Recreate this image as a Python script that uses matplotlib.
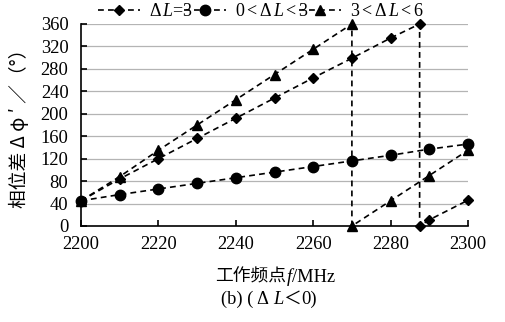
import matplotlib
matplotlib.use("Agg")
import matplotlib.pyplot as plt
from matplotlib.offsetbox import TextArea, HPacker, AnchoredOffsetbox

plt.rcParams['mathtext.fontset'] = 'custom'
plt.rcParams['mathtext.rm'] = 'Liberation Serif'
plt.rcParams['mathtext.it'] = 'Liberation Serif:italic'
plt.rcParams['font.family'] = ['Liberation Serif', 'Noto Sans CJK SC']

# ---- data ----
freq_d = [2200, 2210, 2220, 2230, 2240, 2250, 2260, 2270, 2280, 2287.5, 2287.5, 2290, 2300]
phase_d = [45, 84, 120, 156, 192, 228, 264, 299, 335, 360, 0, 11, 46]

freq_c = [2200, 2210, 2220, 2230, 2240, 2250, 2260, 2270, 2280, 2290, 2300]
phase_c = [45, 56, 66, 76, 86, 96, 106, 116, 126, 137, 146]

freq_t = [2200, 2210, 2220, 2230, 2240, 2250, 2260, 2270, 2270, 2280, 2290, 2300]
phase_t = [45, 88, 135, 180, 225, 270, 315, 360, 0, 45, 90, 135]

labels = [r"$\Delta\,L$=3", r"0$<\Delta\,L<$3", r"3$<\Delta\,L<$6"]
xticks = [2200, 2220, 2240, 2260, 2280, 2300]
yticks = list(range(0, 361, 40))

W, H = 505, 322
fig = plt.figure(figsize=(W / 100, H / 100), dpi=100)
ax = fig.add_axes([81 / W, 1 - 226 / H, (468 - 81) / W, (226 - 24) / H])

ls = dict(color='black', lw=1.2, dashes=(3.5, 2.5), clip_on=False, zorder=3)
l1, = ax.plot(freq_d, phase_d, marker='D', ms=5.5, **ls)
l2, = ax.plot(freq_c, phase_c, marker='o', ms=7.5, **ls)
l3, = ax.plot(freq_t, phase_t, marker='^', ms=7.5, **ls)

ax.set_xlim(2200, 2300)
ax.set_ylim(0, 360)
ax.set_xticks(xticks)
ax.set_yticks(yticks)
ax.yaxis.grid(True, color='#b4b4b4', lw=0.9)
ax.set_axisbelow(True)
for s in ['top', 'right']:
    ax.spines[s].set_visible(False)
for s in ['left', 'bottom']:
    ax.spines[s].set_linewidth(1.2)
ax.tick_params(axis='both', direction='in', length=4, width=1.2, labelsize=13.3)
ax.tick_params(axis='y', pad=9)
ax.tick_params(axis='x', pad=7)

leg = fig.legend([l1, l2, l3], labels, loc='center', bbox_to_anchor=(261 / W, 1 - 12 / H),
                 ncol=3, frameon=False, fontsize=13, handlelength=2.3,
                 handletextpad=0.5, columnspacing=-0.5, borderpad=0, borderaxespad=0)

# y label
fig.text(20 / W, 1 - 124 / H, "相位差 Δ φ ′ ／（°）", rotation=90, ha='center', va='center',
         fontsize=13.5, family=['Noto Sans CJK SC', 'DejaVu Sans'])

def packed(parts, xy):
    areas = [TextArea(t, textprops=p) for t, p in parts]
    box = HPacker(children=areas, align='baseline', pad=0, sep=0)
    ab = AnchoredOffsetbox(loc='center', child=box, frameon=False, pad=0, borderpad=0,
                           bbox_to_anchor=(xy[0] / W, 1 - xy[1] / H),
                           bbox_transform=fig.transFigure)
    fig.add_artist(ab)

cjk = dict(family=['Noto Sans CJK SC'], size=12.8)
ser = dict(family=['Liberation Serif'], size=13.3)
seri = dict(family=['Liberation Serif'], size=13.3, style='italic')

packed([("工作频点", cjk), ("f", seri), ("/MHz", ser)], (275, 277))
packed([("(b) ( Δ ", ser), ("L", seri), ("＜", cjk), ("0)", ser)], (269, 299))

fig.savefig("out.png", dpi=100)
